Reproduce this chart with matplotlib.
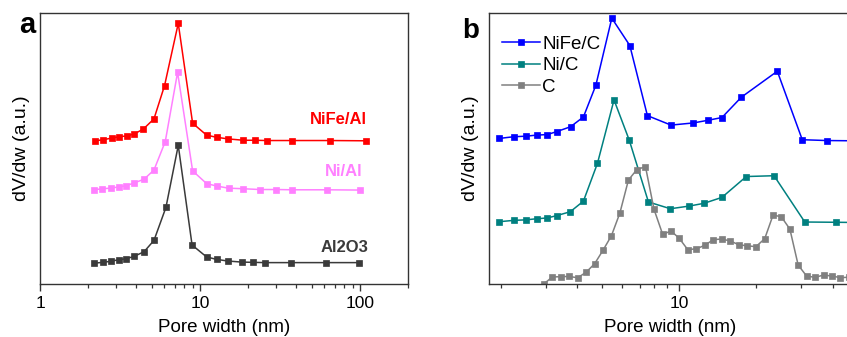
import matplotlib
matplotlib.use("Agg")
import matplotlib.pyplot as plt
from matplotlib.ticker import LogLocator, NullFormatter, FuncFormatter, NullLocator

plt.rcParams['font.family'] = ['Liberation Sans', 'DejaVu Sans']

# ---------- Panel a data ----------
nife_al_x = [2.21, 2.49, 2.80, 3.13, 3.48, 3.87, 4.42, 5.16, 6.01, 7.32, 9.00, 11.0, 12.7, 15.0, 18.7, 22.1, 26.1, 37.4, 64.9, 110]
nife_al_y = [52.9, 53.3, 53.9, 54.4, 54.7, 55.4, 57.2, 61.0, 73.3, 96.3, 59.4, 55.0, 54.2, 53.6, 53.1, 53.1, 53.0, 53.0, 53.0, 52.9]

ni_al_x = [2.18, 2.45, 2.77, 3.12, 3.45, 3.87, 4.47, 5.16, 6.07, 7.25, 9.00, 11.0, 12.7, 15.1, 18.5, 23.7, 30.1, 37.8, 62.5, 100]
ni_al_y = [34.8, 35.2, 35.4, 35.9, 36.3, 37.3, 38.7, 42.1, 52.6, 78.2, 41.8, 37.1, 36.2, 35.4, 35.2, 34.9, 34.9, 34.8, 34.8, 34.7]

al2o3_x = [2.19, 2.47, 2.78, 3.12, 3.45, 3.87, 4.47, 5.16, 6.13, 7.32, 8.93, 11.0, 12.7, 14.9, 18.2, 21.5, 25.5, 36.9, 61.5, 99]
al2o3_y = [7.7, 8.0, 8.4, 9.0, 9.3, 10.2, 11.9, 16.1, 28.3, 51.2, 14.4, 10.0, 9.1, 8.5, 8.1, 8.0, 7.9, 7.9, 7.9, 7.9]

# ---------- Panel b data ----------
nife_c_x = [1.97, 2.25, 2.51, 2.77, 3.05, 3.32, 3.76, 4.22, 4.72, 5.45, 6.41, 7.51, 9.29, 11.36, 13.0, 14.7, 17.5, 24.2, 30.3, 37.7, 48.0]
nife_c_y = [53.75, 54.4, 54.6, 55.0, 55.2, 56.3, 58.1, 61.7, 73.4, 98.2, 88.1, 62.2, 58.7, 59.5, 60.5, 61.5, 69.0, 78.6, 53.3, 53.0, 52.9]

ni_c_x = [1.97, 2.25, 2.51, 2.77, 3.05, 3.33, 3.75, 4.22, 4.79, 5.56, 6.38, 7.58, 9.24, 10.96, 12.5, 14.7, 18.3, 23.5, 31.0, 41.2, 52.0]
ni_c_y = [23.0, 23.5, 23.7, 24.1, 24.4, 25.3, 26.7, 30.6, 44.6, 68.0, 53.1, 30.3, 27.8, 28.8, 29.8, 32.0, 39.7, 40.0, 22.9, 22.8, 22.7]

c_x = [2.75, 2.96, 3.19, 3.44, 3.70, 4.01, 4.33, 4.67, 5.03, 5.43, 5.86, 6.33, 6.82, 7.38, 7.97, 8.62, 9.29, 10.0, 10.8,
       11.67, 12.6, 13.6, 14.65, 15.85, 17.1, 18.5, 19.95, 21.6, 23.3, 25.1, 27.1, 29.2, 31.5, 34.0, 36.7, 39.6,
       42.7, 46.0]
c_y = [-1.5, 0.1, 2.6, 2.7, 2.8, 2.3, 4.4, 7.5, 12.4, 17.8, 26.2, 38.4, 42.2, 43.4, 27.6, 18.3, 19.6, 16.9, 12.7,
       13.0, 14.3, 16.4, 16.6, 15.9, 14.5, 14.1, 13.8, 16.7, 25.5, 24.8, 20.3, 7.0, 2.95, 2.46, 3.3, 2.95,
       2.34, 2.5]

labels_a = ["NiFe/Al", "Ni/Al", "Al2O3"]
labels_b = ["NiFe/C", "Ni/C", "C"]
xlabel = "Pore width (nm)"
ylabel = "dV/dw (a.u.)"

W, H = 847, 337
fig = plt.figure(figsize=(W / 100, H / 100), dpi=100)


def px_axes(x0, y0, x1, y1):
    return fig.add_axes([x0 / W, 1 - y1 / H, (x1 - x0) / W, (y1 - y0) / H])


spine_col = '#333333'
lw = 1.1
ms = 4.6


def style(ax):
    for s in ax.spines.values():
        s.set_color(spine_col)
        s.set_linewidth(1.0)
    ax.set_xscale('log')
    ax.xaxis.set_major_locator(LogLocator(base=10))
    ax.xaxis.set_minor_locator(LogLocator(base=10, subs=range(2, 10)))
    ax.xaxis.set_minor_formatter(NullFormatter())
    ax.xaxis.set_major_formatter(FuncFormatter(lambda v, p: f"{v:g}"))
    ax.yaxis.set_major_locator(NullLocator())
    ax.yaxis.set_minor_locator(NullLocator())
    ax.tick_params(axis='x', which='major', direction='out', length=5, width=1.0, color=spine_col,
                   labelsize=12.5, pad=4)
    ax.tick_params(axis='x', which='minor', direction='out', length=3, width=0.9, color=spine_col)
    ax.set_ylim(0, 100)
    ax.set_xlabel(xlabel, fontsize=13.5, labelpad=5.5)
    ax.set_ylabel(ylabel, fontsize=14, labelpad=7)


# ---------- Panel a ----------
axa = px_axes(40, 13.3, 408, 284)
style(axa)
axa.set_xlim(1, 200)
cols_a = ['#FF0000', '#FF80FF', '#3A3A3A']
for xs, ys, c in zip([nife_al_x, ni_al_x, al2o3_x], [nife_al_y, ni_al_y, al2o3_y], cols_a):
    axa.plot(xs, ys, '-s', color=c, lw=lw, ms=ms, mec=c, mew=0.5)
label_pos_a = [(367, 119), (362, 171), (368, 247)]
for lab, c, (px, py) in zip(labels_a, cols_a, label_pos_a):
    fig.text(px / W, 1 - py / H, lab, color=c, fontsize=12, fontweight='bold', ha='right', va='center')
fig.text(27 / W, 1 - 32.7 / H, 'a', fontsize=21, fontweight='bold', ha='center', va='baseline')

# ---------- Panel b ----------
axb = px_axes(489, 13.3, 851, 284)
style(axb)
axb.set_xlim(1.803, 47.0)
cols_b = ['#0000FF', '#008080', '#808080']
for xs, ys, c, lab in zip([nife_c_x, ni_c_x, c_x], [nife_c_y, ni_c_y, c_y], cols_b, labels_b):
    axb.plot(xs, ys, '-s', color=c, lw=lw, ms=ms, mec=c, mew=0.5, label=lab)
leg = axb.legend(loc='upper left', bbox_to_anchor=(0.0, 0.965), frameon=False, fontsize=13.5,
                 handlelength=2.0, handletextpad=0.15, labelspacing=0.22, borderaxespad=0.3)
fig.text(470.5 / W, 1 - 38.3 / H, 'b', fontsize=20, fontweight='bold', ha='center', va='baseline')

fig.savefig('out.png', dpi=100)
